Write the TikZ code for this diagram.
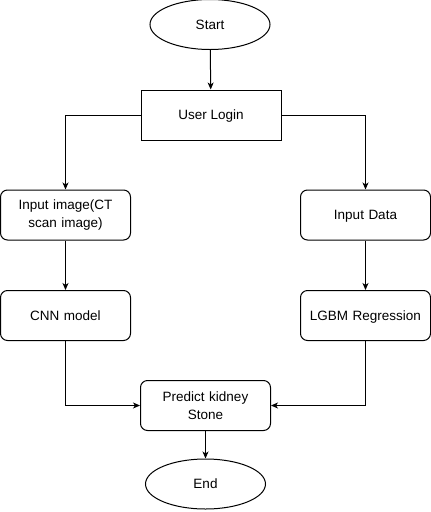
\documentclass[tikz,border=0pt]{standalone}
\usepackage{fontspec}
\setmainfont{Liberation Sans}
\usetikzlibrary{shapes.geometric,arrows.meta}
\begin{document}
\begin{tikzpicture}[x=1pt,y=-1pt,
  every node/.style={font=\fontsize{13.5}{17.5}\selectfont, align=center, line width=1pt},
  oneline/.style={text depth=0pt},
  term/.style={draw, ellipse, minimum width=120pt, minimum height=50pt, inner sep=0pt, oneline},
  plainbox/.style={draw, rectangle, minimum width=140pt, minimum height=50pt, inner sep=0pt, oneline},
  roundbox/.style={draw, rectangle, rounded corners=7pt, minimum width=130pt, minimum height=50pt, inner sep=0pt, text width=126pt},
  conn/.style={line width=1pt, -{Stealth[length=7pt,width=6pt,inset=2pt]}}
]
\useasboundingbox (0,0) rectangle (431,512);
\node[term] (start) at (210,24.5) {Start};
\node[plainbox] (login) at (211,115) {User Login};
\node[roundbox] (img) at (65.5,215) {Input image(CT\\scan image)};
\node[roundbox, oneline] (data) at (365.5,215) {Input Data};
\node[roundbox, oneline] (cnn) at (65.5,315.5) {CNN model};
\node[roundbox, oneline] (lgbm) at (365.5,315.5) {LGBM Regression};
\node[roundbox] (pred) at (205.5,405.5) {Predict kidney\\Stone};
\node[term] (end) at (205.5,484) {End};
\draw[conn] (start) -- (login);
\draw[conn] (login.west) -| (img.north);
\draw[conn] (login.east) -| (data.north);
\draw[conn] (img) -- (cnn);
\draw[conn] (data) -- (lgbm);
\draw[conn] (cnn.south) |- (pred.west);
\draw[conn] (lgbm.south) |- (pred.east);
\draw[conn] (pred) -- (end);
\end{tikzpicture}
\end{document}
